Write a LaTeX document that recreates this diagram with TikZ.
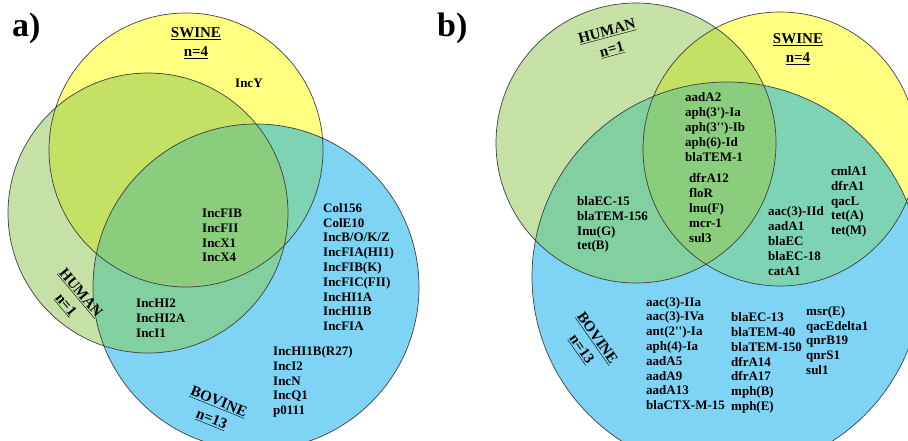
\documentclass[tikz,border=0pt]{standalone}
\usepackage{fontspec}
\setmainfont{Liberation Serif}
\usetikzlibrary{positioning}
\definecolor{swinec}{RGB}{255,255,128}
\definecolor{humanc}{RGB}{197,225,165}
\definecolor{bovinec}{RGB}{127,212,245}
\definecolor{hsc}{RGB}{196,225,100}
\definecolor{sbc}{RGB}{126,211,180}
\definecolor{hbc}{RGB}{130,208,160}
\definecolor{allc}{RGB}{138,206,125}
\newcommand{\vennregions}[4]{% #1 panel, #2 swine, #3 human, #4 bovine radius
  \fill[swinec] (swine#1) circle (#2);
  \fill[humanc] (human#1) circle (#3);
  \fill[bovinec] (bovine#1) circle (#4);
  \begin{scope}
    \clip (human#1) circle (#3);
    \fill[hsc] (swine#1) circle (#2);
    \fill[hbc] (bovine#1) circle (#4);
  \end{scope}
  \begin{scope}
    \clip (swine#1) circle (#2);
    \fill[sbc] (bovine#1) circle (#4);
    \clip (human#1) circle (#3);
    \fill[allc] (bovine#1) circle (#4);
  \end{scope}
  \draw[ring] (swine#1) circle (#2) (human#1) circle (#3) (bovine#1) circle (#4);
}

\begin{document}
\begin{tikzpicture}[x=1pt,y=-1pt,
    ring/.style={draw=black!75,line width=0.7pt},
    genes/.style={inner sep=0pt,anchor=west,align=left,
      font=\fontsize{13}{14.8}\selectfont\bfseries},
    group/.style={inner sep=0pt,align=center,
      font=\fontsize{15}{19}\selectfont\bfseries},
    panel/.style={inner sep=0pt,anchor=base west,
      font=\fontsize{34}{34}\selectfont\bfseries}]
  \useasboundingbox (0,0) rectangle (908,441);
  \fill[white] (0,0) rectangle (908,441);
  \clip (0,0) rectangle (908,441);

  % a) replicons
  \coordinate (swineA) at (186,150);
  \coordinate (humanA) at (148,213);
  \coordinate (bovineA) at (256,287);
  \vennregions{A}{137pt}{140pt}{163pt}
  \node[panel] (pa) at (12,37) {a)};
  \node[group] (swinea) at (196,43) {\underline{SWINE}\\\underline{n=4}};
  \node[group,rotate=-50] (humana) at (73,299) {\underline{HUMAN}\\\underline{n=1}};
  \node[group,rotate=-22] (bovinea) at (215,411) {\underline{BOVINE}\\\underline{n=13}};
  \node[genes] (incy) at (235,83) {IncY};
  \node[genes] (allA) at (202,235.5) {IncFIB\\IncFII\\IncX1\\IncX4};
  \node[genes] (hbA) at (136,318) {IncHI2\\IncHI2A\\IncI1};
  \node[genes] (bovA) at (323,267) {Col156\\ColE10\\IncB/O/K/Z\\IncFIA(HI1)\\IncFIB(K)\\IncFIC(FII)\\IncHI1A\\IncHI1B\\IncFIA};
  \node[genes] (bovA2) at (273,382) {IncHI1B(R27)\\IncI2\\IncN\\IncQ1\\p0111};

  % b) resistance genes
  \coordinate (swineB) at (780,149);
  \coordinate (humanB) at (636,143);
  \coordinate (bovineB) at (727,277);
  \vennregions{B}{137pt}{140pt}{195pt}
  \node[panel] (pb) at (437,37) {b)};
  \node[group] (swineb) at (798,49.5) {\underline{SWINE}\\\underline{n=4}};
  \node[group,rotate=15] (humanb) at (609.5,41) {\underline{HUMAN}\\\underline{n=1}};
  \node[group,rotate=-55] (bovineb) at (589,344) {\underline{BOVINE}\\\underline{n=13}};
  \node[genes] (allB) at (685,127) {aadA2\\aph(3\textquotesingle)-Ia\\aph(3\textquotesingle\textquotesingle)-Ib\\aph(6)-Id\\blaTEM-1};
  \node[genes] (allB2) at (689,208) {dfrA12\\floR\\lnu(F)\\mcr-1\\sul3};
  \node[genes] (hbB) at (577,224.5) {blaEC-15\\blaTEM-156\\Inu(G)\\tet(B)};
  \node[genes] (sbB) at (768,241) {aac(3)-IId\\aadA1\\blaEC\\blaEC-18\\catA1};
  \node[genes] (sbB2) at (831,202) {cmlA1\\dfrA1\\qacL\\tet(A)\\tet(M)};
  \node[genes] (bovB) at (646,353.5) {aac(3)-IIa\\aac(3)-IVa\\ant(2\textquotesingle\textquotesingle)-Ia\\aph(4)-Ia\\aadA5\\aadA9\\aadA13\\blaCTX-M-15};
  \node[genes] (bovB2) at (731,363) {blaEC-13\\blaTEM-40\\blaTEM-150\\dfrA14\\dfrA17\\mph(B)\\mph(E)};
  \node[genes] (bovB3) at (806,340.5) {msr(E)\\qacEdelta1\\qnrB19\\qnrS1\\sul1};
\end{tikzpicture}
\end{document}
